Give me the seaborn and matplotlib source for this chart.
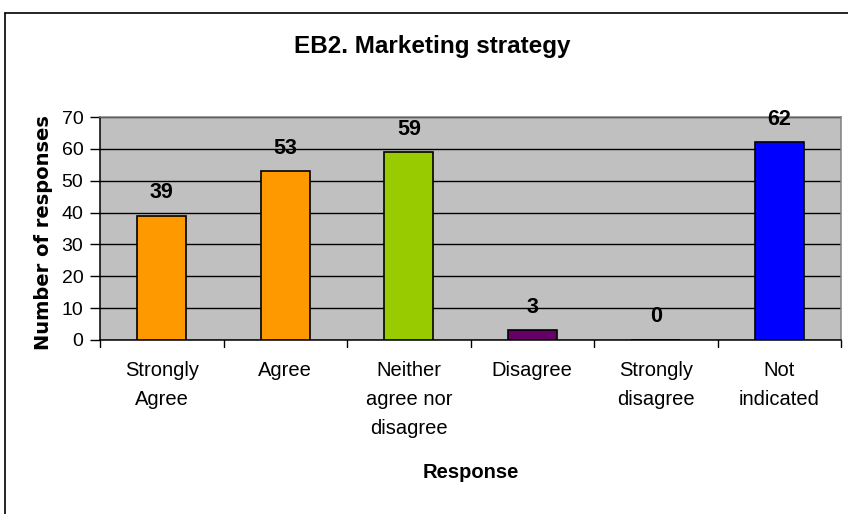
import matplotlib
matplotlib.use("Agg")
import matplotlib.pyplot as plt
import seaborn as sns
import pandas as pd
from matplotlib.lines import Line2D

categories = ["Strongly\nAgree", "Agree", "Neither\nagree nor\ndisagree", "Disagree", "Strongly\ndisagree", "Not\nindicated"]
values = [39, 53, 59, 3, 0, 62]
colors = ["#FF9900", "#FF9900", "#99CC00", "#660066", "#FFFFFF", "#0000FF"]
yticks = [0, 10, 20, 30, 40, 50, 60, 70]

sns.set_theme(style="white")
plt.rcParams['font.family'] = ['Liberation Sans', 'DejaVu Sans']
plt.rcParams.update({"text.color": "black", "axes.labelcolor": "black",
                     "xtick.color": "black", "ytick.color": "black"})

df = pd.DataFrame({"Response": categories, "Count": values})

W, H = 848, 514
fig = plt.figure(figsize=(W / 100, H / 100), dpi=100)
ax = fig.add_axes([100 / W, 1 - 340 / H, 741 / W, 223 / H])
ax.set_facecolor("#C0C0C0")

sns.barplot(data=df, x="Response", y="Count", hue="Response", palette=colors,
            saturation=1, legend=False, width=0.4, edgecolor="black", linewidth=1.2,
            ax=ax, zorder=3)

ax.set_ylim(0, 70)
ax.set_xlim(-0.5, len(categories) - 0.5)
ax.set_yticks(yticks)
ax.yaxis.grid(True, color="black", linewidth=1.0, zorder=1)
ax.set_axisbelow(True)

for i, v in enumerate(values):
    ax.annotate(str(v), (i, v), xytext=(0, 9), textcoords="offset points",
                ha="center", va="bottom", fontsize=15.5, fontweight="bold", color="black",
                annotation_clip=False)

ax.set_xticks(range(len(categories)))
ax.set_xticklabels(categories, fontsize=14.5, linespacing=1.66, color="black")
ax.tick_params(axis="x", length=0, pad=15)
for b in [i - 0.5 for i in range(len(categories) + 1)]:
    ax.plot([b, b], [0, -0.032], transform=ax.get_xaxis_transform(), color="black",
            linewidth=1.0, clip_on=False)
ax.tick_params(axis="y", length=7, width=1.0, color="black", labelcolor="black",
               labelsize=14, pad=5, left=True)

for s in ["left", "bottom"]:
    ax.spines[s].set_color("black")
    ax.spines[s].set_linewidth(1.1)
for s in ["top", "right"]:
    ax.spines[s].set_color("#808080")
    ax.spines[s].set_linewidth(1.1)

ax.set_xlabel("Response", fontsize=14.5, fontweight="bold", va="top", color="black")
ax.xaxis.set_label_coords(0.5, (340 - 463) / 223)
ax.set_ylabel("Number of responses", fontsize=14, fontweight="bold",
              family=["DejaVu Sans"], color="black")
ax.yaxis.set_label_coords((53 - 100) / 741, (340 - 233) / 223)

fig.text(432 / W, 1 - 46 / H, "EB2. Marketing strategy", ha="center", va="center",
         fontsize=17.5, fontweight="bold", color="black")

fig.add_artist(Line2D([5 / W, 5 / W], [0, 1 - 13 / H], color="black", linewidth=1.2,
                      transform=fig.transFigure))
fig.add_artist(Line2D([5 / W, 1], [1 - 13 / H, 1 - 13 / H], color="black", linewidth=1.2,
                      transform=fig.transFigure))

fig.savefig("out.png", dpi=100)
